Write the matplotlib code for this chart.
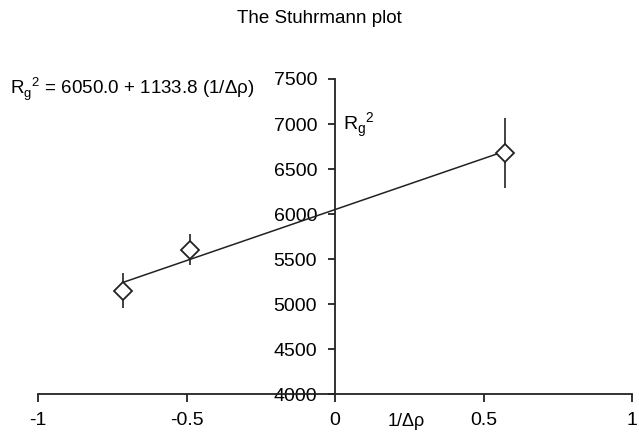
import matplotlib
matplotlib.use("Agg")
import matplotlib.pyplot as plt
import numpy as np

plt.rcParams['font.family'] = ['Liberation Sans', 'DejaVu Sans']

# data
inv_drho = [-0.715, -0.49, 0.572]
rg2 = [5150, 5605, 6675]
rg2_err = [190, 170, 390]

intercept = 6050.0
slope = 1133.8

x_ticks = [-1, -0.5, 0, 0.5, 1]
y_ticks = [4000, 4500, 5000, 5500, 6000, 6500, 7000, 7500]

fig = plt.figure(figsize=(6.39, 4.34), dpi=100)
ax = fig.add_axes([0.0595, 0.092, 0.93, 0.726])

# fitted line between the outer points
xf = np.array([min(inv_drho), max(inv_drho)])
ax.plot(xf, intercept + slope * xf, color='#222222', lw=1.1, zorder=2)

ax.errorbar(inv_drho, rg2, yerr=rg2_err, fmt='D', ms=9, mfc='white', mec='#222222',
            mew=1.3, ecolor='#222222', elinewidth=1.2, capsize=0, zorder=3)

ax.set_xlim(-1, 1)
ax.set_ylim(4000, 7500)
ax.set_xticks(x_ticks)
ax.set_xticklabels(['-1', '-0.5', '0', '0.5', '1'])
ax.set_yticks(y_ticks)

ax.spines['left'].set_position(('data', 0))
ax.spines['top'].set_visible(False)
ax.spines['right'].set_visible(False)
for s in ('left', 'bottom'):
    ax.spines[s].set_linewidth(1.3)
    ax.spines[s].set_color('#222222')
ax.tick_params(axis='both', direction='out', width=1.3, colors='#222222',
               labelsize=14, labelcolor='black')
ax.tick_params(axis='x', length=6, pad=7)
ax.tick_params(axis='y', length=5, pad=8)

ax.text(0.24, 3650, '1/Δρ', fontsize=13, ha='center', va='baseline')
ax.text(0.027, 6920, r'R$_\mathregular{g}$$^\mathregular{2}$', fontsize=14, ha='left', va='baseline')

fig.text(0.5, 0.958, 'The Stuhrmann plot', fontsize=13.5, ha='center', va='center')
fig.text(0.015, 0.795, r'R$_\mathregular{g}$$^\mathregular{2}$ = 6050.0 + 1133.8 (1/Δρ)',
         fontsize=13.5, ha='left', va='center')

fig.savefig('out.png', dpi=100)
